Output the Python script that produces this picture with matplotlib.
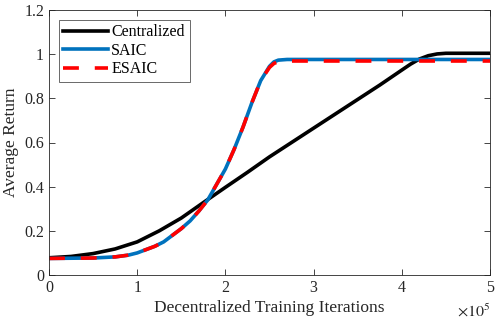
import matplotlib
matplotlib.use('Agg')
import matplotlib.pyplot as plt

# Datos (x en unidades de 1e5 iteraciones)
x_cent = [0, 0.25, 0.5, 0.75, 1.0, 1.25, 1.5, 1.75, 2.0, 2.25, 2.5, 2.75,
          3.0, 3.25, 3.5, 3.75, 4.0, 4.1, 4.2, 4.3, 4.4, 4.5, 4.75, 5.0]
y_cent = [0.078, 0.084, 0.097, 0.118, 0.15, 0.2, 0.258, 0.328, 0.397, 0.465,
          0.535, 0.6, 0.665, 0.73, 0.795, 0.86, 0.928, 0.955, 0.978, 0.993,
          1.001, 1.004, 1.004, 1.004]

x_saic = [0, 0.5, 0.75, 0.9, 1.0, 1.1, 1.2, 1.3, 1.4, 1.5, 1.6, 1.7, 1.8,
          1.9, 2.0, 2.1, 2.2, 2.3, 2.4, 2.5, 2.55, 2.6, 2.7, 5.0]
y_saic = [0.075, 0.077, 0.082, 0.09, 0.10, 0.115, 0.13, 0.15, 0.18, 0.21,
          0.245, 0.29, 0.34, 0.41, 0.48, 0.57, 0.67, 0.78, 0.88, 0.945,
          0.965, 0.973, 0.976, 0.976]

x_esaic = x_saic
y_esaic = [0.075, 0.077, 0.082, 0.09, 0.10, 0.115, 0.13, 0.15, 0.18, 0.21,
           0.245, 0.29, 0.34, 0.41, 0.48, 0.57, 0.67, 0.78, 0.88, 0.94,
           0.958, 0.966, 0.969, 0.969]

plt.rcParams['font.family'] = ['Liberation Serif', 'DejaVu Serif']
plt.rcParams['mathtext.fontset'] = 'stix'

gris = (0.15, 0.15, 0.15)
fig = plt.figure(figsize=(4.98, 3.25), dpi=100)
ax = fig.add_axes([49 / 498, 50 / 325, 441 / 498, 265 / 325])

ax.plot(x_cent, y_cent, color='k', lw=2.6, label='Centralized')
ax.plot(x_saic, y_saic, color=(0, 0.447, 0.741), lw=2.6, label='SAIC')
ax.plot(x_esaic, y_esaic, color='r', lw=2.6, ls=(0, (4.4, 4.4)), label='ESAIC')

ax.set_xlim(0, 5)
ax.set_ylim(0, 1.2)
ax.set_xticks([0, 1, 2, 3, 4, 5])
ax.set_xticklabels(['0', '1', '2', '3', '4', '5'])
ax.set_yticks([0, 0.2, 0.4, 0.6, 0.8, 1.0, 1.2])
ax.set_yticklabels(['0', '0.2', '0.4', '0.6', '0.8', '1', '1.2'])
ax.tick_params(direction='in', top=True, right=True, labelsize=11.5,
               colors=gris, length=4, width=0.6)
for s in ax.spines.values():
    s.set_color(gris)
    s.set_linewidth(0.6)

ax.set_xlabel('Decentralized Training Iterations', fontsize=12.5,
              color=gris, labelpad=3)
ax.set_ylabel('Average Return', fontsize=12.5, color=gris, labelpad=4)
ax.text(1.0, -0.14, r'$\times 10^5$', transform=ax.transAxes, ha='right',
        va='center', fontsize=11.5, color=gris)

leg = ax.legend(loc='upper left', fontsize=11.5, frameon=True, fancybox=False,
                edgecolor=gris, handlelength=2.8, handletextpad=0.2,
                borderpad=0.3, labelspacing=0.15, borderaxespad=0.6)
leg.get_frame().set_linewidth(0.6)

fig.savefig('out.png', dpi=100)
